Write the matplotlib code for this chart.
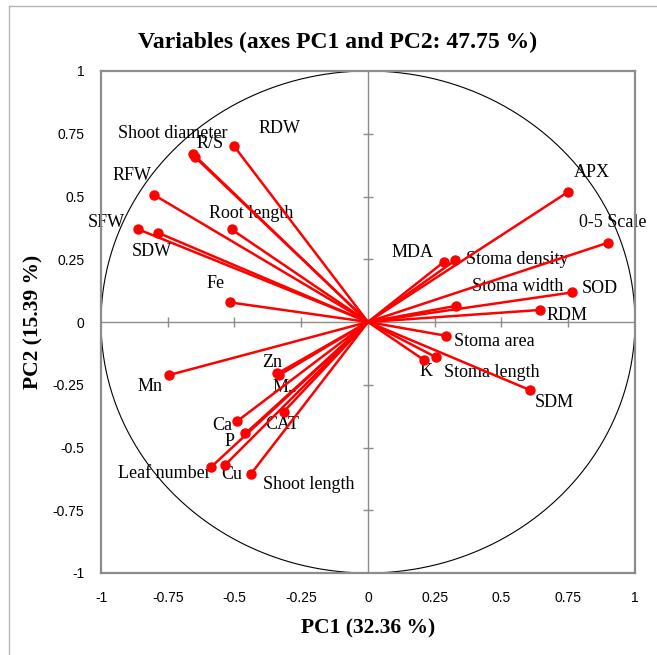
import numpy as np
import matplotlib
matplotlib.use('Agg')
import matplotlib.pyplot as plt
from matplotlib.lines import Line2D

# variable loadings on PC1 / PC2
names = ["RDW", "Shoot diameter", "R/S", "RFW", "SFW", "SDW", "Root length", "Fe",
         "APX", "0-5 Scale", "MDA", "Stoma density", "Stoma width", "SOD", "RDM",
         "Stoma area", "K", "Stoma length", "SDM",
         "Mn", "Zn", "M...", "Ca", "P", "CAT", "Leaf number", "Cu", "Shoot length"]
pc1 = [-0.502, -0.655, -0.648, -0.801, -0.860, -0.785, -0.511, -0.516,
       0.749, 0.899, 0.285, 0.327, 0.328, 0.765, 0.646,
       0.293, 0.209, 0.256, 0.606,
       -0.744, -0.339, -0.333, -0.491, -0.459, -0.315, -0.588, -0.534, -0.439]
pc2 = [0.701, 0.669, 0.657, 0.506, 0.369, 0.355, 0.369, 0.078,
       0.518, 0.316, 0.240, 0.246, 0.064, 0.118, 0.048,
       -0.055, -0.151, -0.141, -0.271,
       -0.211, -0.205, -0.212, -0.396, -0.444, -0.357, -0.578, -0.568, -0.606]
ticks = [-1, -0.75, -0.5, -0.25, 0, 0.25, 0.5, 0.75, 1]
tick_labels = ["-1", "-0.75", "-0.5", "-0.25", "0", "0.25", "0.5", "0.75", "1"]

# label offsets from the point, in pixels (x right, y up)
offsets = {"RDW": (46, 18), "Shoot diameter": (-20, 21), "R/S": (15, 14), "RFW": (-22, 19),
           "SFW": (-32, 7), "SDW": (-7, -19), "Root length": (20, 16), "Fe": (-15, 19),
           "APX": (24, 19), "0-5 Scale": (5, 20), "MDA": (-32, 9), "Stoma density": (62, 1),
           "Stoma width": (62, 19), "SOD": (28, 4), "RDM": (27, -6), "Stoma area": (48, -6),
           "K": (2, -12), "Stoma length": (55, -15), "SDM": (25, -12), "Mn": (-19, -12),
           "Zn": (-5, 11), "M...": (8, -12), "Ca": (-15, -4), "P": (-16, -8),
           "CAT": (-2, -13), "Leaf number": (-47, -6), "Cu": (6, -10), "Shoot length": (58, -10)}

plt.rcParams['font.family'] = ['Liberation Serif', 'DejaVu Serif']

W, H = 657, 655
fig = plt.figure(figsize=(W / 100, H / 100), dpi=100)
ax = fig.add_axes([101 / W, 1 - 573 / H, 534 / W, 502 / H])
ax.set_xlim(-1, 1)
ax.set_ylim(-1, 1)

frame_col = '#8c8c8c'
for sp in ax.spines.values():
    sp.set_color(frame_col)
    sp.set_linewidth(1.6)

ax.set_xticks(ticks)
ax.set_yticks(ticks)
ax.set_xticklabels(tick_labels, family='Liberation Sans', fontsize=10)
ax.set_yticklabels(tick_labels, family='Liberation Sans', fontsize=10)
ax.tick_params(axis='x', length=0, pad=13)
ax.tick_params(axis='y', length=0, pad=12)

# axis lines through the origin with crossing tick marks
ax.axhline(0, color=frame_col, lw=1.0, zorder=1)
ax.axvline(0, color=frame_col, lw=1.0, zorder=1)
ax.plot(ticks[1:-1], [0] * (len(ticks) - 2), ls='none', marker='|', ms=7, mew=1.0, color=frame_col, zorder=1)
ax.plot([0] * (len(ticks) - 2), ticks[1:-1], ls='none', marker='_', ms=7, mew=1.0, color=frame_col, zorder=1)

# correlation circle
theta = np.linspace(0, 2 * np.pi, 400)
ax.plot(np.cos(theta), np.sin(theta), color='black', lw=0.8, zorder=2)

for x, y in zip(pc1, pc2):
    ax.plot([0, x], [0, y], color='#ff0000', lw=1.8, zorder=3, solid_capstyle='round')
ax.plot(pc1, pc2, ls='none', marker='o', ms=6.5, color='#ff0000', zorder=4)

for n, x, y in zip(names, pc1, pc2):
    ax.annotate(n, (x, y), xytext=offsets[n], textcoords='offset pixels',
                ha='center', va='center', fontsize=13, zorder=2, annotation_clip=False)

fig.text(338 / W, 1 - 42 / H, "Variables (axes PC1 and PC2: 47.75 %)",
         ha='center', va='center', fontsize=17, fontweight='bold')
fig.text(368 / W, 1 - 628 / H, "PC1 (32.36 %)", ha='center', va='center',
         fontsize=15.5, fontweight='bold')
fig.text(33 / W, 1 - 322 / H, "PC2 (15.39 %)", ha='center', va='center',
         fontsize=15.5, fontweight='bold', rotation=90)

# outer chart border (only left and top visible)
fig.add_artist(Line2D([9 / W, 9 / W], [0, 1 - 6 / H], transform=fig.transFigure, color='#b4b4b4', lw=1.0))
fig.add_artist(Line2D([9 / W, 1], [1 - 6 / H, 1 - 6 / H], transform=fig.transFigure, color='#b4b4b4', lw=1.0))

fig.savefig('out.png', dpi=100)
